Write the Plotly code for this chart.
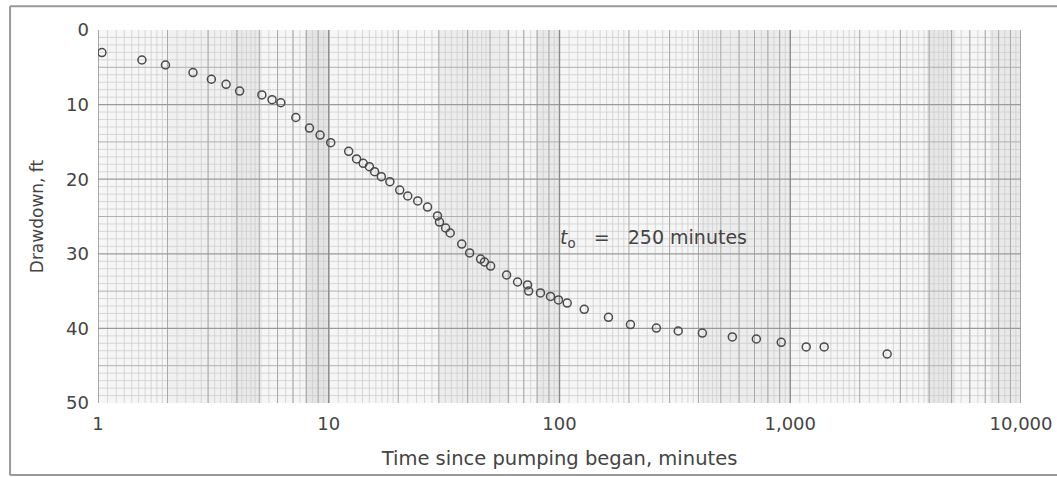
import numpy as np
import plotly.graph_objects as go

# ---- data ----
time_min = [1.04, 1.55, 1.96, 2.58, 3.10, 3.59, 4.11, 5.13, 5.68, 6.20,
            7.20, 8.25, 9.17, 10.2, 12.2, 13.2, 14.1, 15.0, 15.8, 16.9,
            18.4, 20.3, 22.0, 24.3, 26.8, 29.6, 30.2, 32.1, 33.6, 37.7,
            40.8, 45.5, 47.3, 50.3, 59.0, 65.8, 72.7, 73.5, 82.7, 91.4,
            99.0, 108, 128, 163, 203, 263, 327, 416, 561, 713,
            914, 1173, 1403, 2630]
drawdown_ft = [3.02, 4.02, 4.69, 5.70, 6.60, 7.28, 8.18, 8.71, 9.34, 9.75,
               11.73, 13.14, 14.08, 15.11, 16.26, 17.29, 17.87, 18.32, 18.99, 19.66,
               20.33, 21.45, 22.25, 22.92, 23.73, 24.93, 25.74, 26.54, 27.21, 28.69,
               29.89, 30.70, 31.10, 31.64, 32.84, 33.78, 34.18, 34.99, 35.25, 35.72,
               36.19, 36.60, 37.44, 38.51, 39.48, 39.95, 40.35, 40.62, 41.15, 41.42,
               41.86, 42.49, 42.49, 43.43]
x_tickvals = [1, 10, 100, 1000, 10000]
x_ticktext = ["1", "10", "100", "1,000", "10,000"]
y_tickvals = [0, 10, 20, 30, 40, 50]
annotation_text = "<i>t</i><sub>o</sub>\u00a0\u00a0\u00a0=\u00a0\u00a0\u00a0250 minutes"

fig = go.Figure()

# ---- graph-paper grid ----
def vlines(vals, color, width):
    xs, ys = [], []
    for v in vals:
        xs += [v, v, None]
        ys += [0, 50, None]
    fig.add_trace(go.Scatter(x=xs, y=ys, mode="lines", hoverinfo="skip", showlegend=False,
                             line=dict(color=color, width=width)))

def hlines(vals, color, width):
    xs, ys = [], []
    for v in vals:
        xs += [1, 10000, None]
        ys += [v, v, None]
    fig.add_trace(go.Scatter(x=xs, y=ys, mode="lines", hoverinfo="skip", showlegend=False,
                             line=dict(color=color, width=width)))

fine_x = []
for d in range(4):
    base = 10 ** d
    fine_x += [m * base for m in np.arange(1.1, 2.0, 0.1)]
    fine_x += [m * base for m in np.arange(2.2, 5.0, 0.2)]
    fine_x += [m * base for m in np.arange(5.5, 10.0, 0.5)]
mid_x = [m * 10 ** d for d in range(4) for m in range(2, 10)]
major_x = [1, 10, 100, 1000, 10000]

vlines(fine_x, "#cecece", 0.8)
hlines([v for v in range(1, 50) if v % 5], "#cecece", 0.8)
vlines(mid_x, "#a8a8a8", 1)
hlines([v for v in range(5, 50, 10)], "#b0b0b0", 1)
hlines([10, 20, 30, 40], "#9a9a9a", 1.2)
vlines(major_x, "#8a8a8a", 1.4)

# ---- data points ----
fig.add_trace(go.Scatter(x=time_min, y=drawdown_ft, mode="markers", showlegend=False,
                         marker=dict(symbol="circle-open", size=8, color="#4a4a4a",
                                     line=dict(color="#4a4a4a", width=1.5))))

# ---- scan-like shaded bands & frame (layout decoration) ----
px_l, px_w = 98.0, 923.0
bands = [(233, 262), (305, 330), (167, 233), (440, 510), (537, 559), (700, 790), (927, 955), (990, 1021)]
shade = [0.05, 0.07, 0.025, 0.04, 0.05, 0.04, 0.06, 0.05]
shapes = []
for (a, b), s in zip(bands, shade):
    shapes.append(dict(type="rect", xref="paper", yref="paper",
                       x0=(a - px_l) / px_w, x1=(b - px_l) / px_w, y0=0, y1=1,
                       fillcolor=f"rgba(0,0,0,{s})", line=dict(width=0), layer="below"))
# outer frame
shapes.append(dict(type="line", xref="paper", yref="paper", x0=-0.0953, x1=1.04,
                   y0=1.064, y1=1.064, line=dict(color="#9a9a9a", width=2)))
shapes.append(dict(type="line", xref="paper", yref="paper", x0=-0.0953, x1=1.04,
                   y0=-0.193, y1=-0.193, line=dict(color="#9a9a9a", width=2)))
shapes.append(dict(type="line", xref="paper", yref="paper", x0=-0.0953, x1=-0.0953,
                   y0=-0.193, y1=1.064, line=dict(color="#9a9a9a", width=2)))

fig.update_layout(
    width=1057, height=477,
    margin=dict(l=98, r=36, t=30, b=74),
    paper_bgcolor="white",
    plot_bgcolor="#f6f6f6",
    font=dict(family="DejaVu Sans, Arial, sans-serif", color="#444444"),
    shapes=shapes,
    annotations=[dict(text=annotation_text, xref="paper", yref="paper",
                      x=(558 - px_l) / px_w, y=0.442, xanchor="left", yanchor="middle",
                      showarrow=False, font=dict(size=19, color="#444444"))],
)
fig.update_xaxes(type="log", range=[0, 4], tickvals=x_tickvals, ticktext=x_ticktext,
                 showgrid=False, zeroline=False, showline=False, ticks="", automargin=False,
                 tickfont=dict(size=18, color="#444444"), ticklabelstandoff=8,
                 title=dict(text="Time since pumping began, minutes",
                            font=dict(size=19.5, color="#444444"), standoff=18))
fig.update_yaxes(range=[50, 0], tickvals=y_tickvals, showgrid=False, zeroline=False,
                 showline=False, ticks="", automargin=False,
                 tickfont=dict(size=18, color="#444444"), ticklabelstandoff=8,
                 title=dict(text="Drawdown, ft", font=dict(size=17, color="#444444"),
                            standoff=18))

fig.write_html("out.html")
